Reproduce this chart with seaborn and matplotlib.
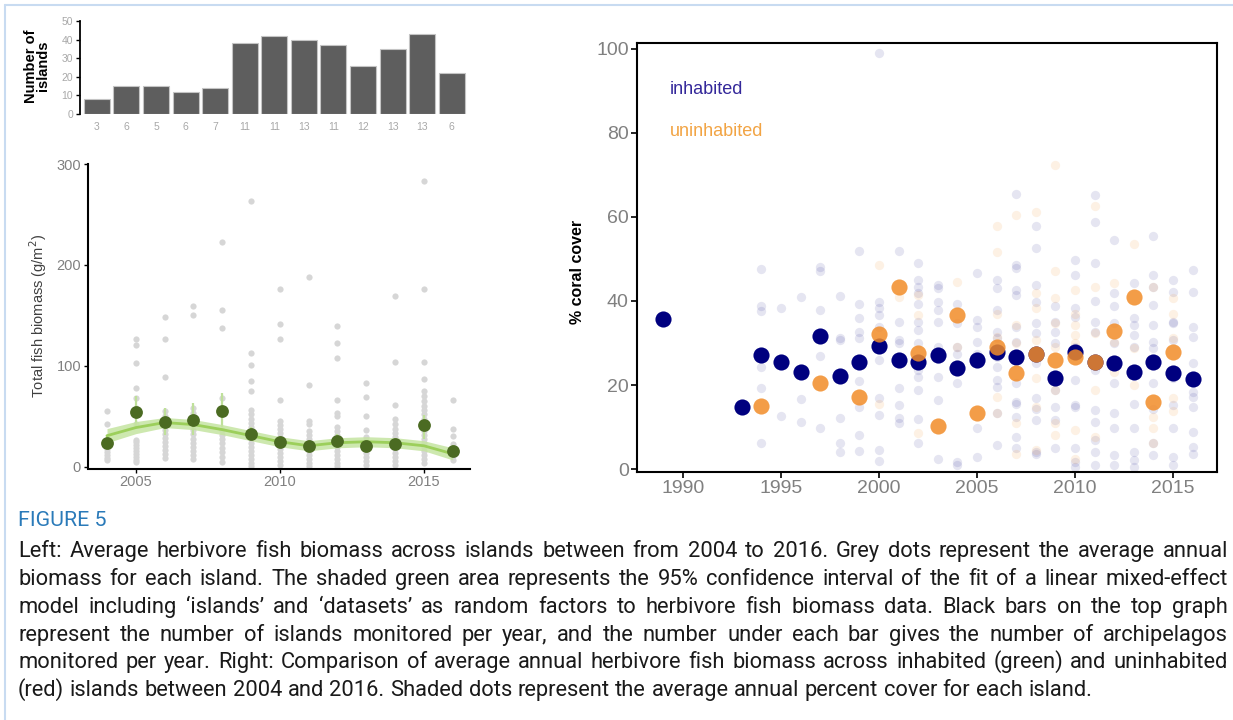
import numpy as np
import pandas as pd
import matplotlib
matplotlib.use("Agg")
import matplotlib.pyplot as plt
import seaborn as sns
from matplotlib.lines import Line2D

# ---------------------------------------------------------------
# Data
# ---------------------------------------------------------------
years = list(range(2004, 2017))
n_islands = [8, 15, 15, 12, 14, 38, 42, 40, 37, 26, 35, 43, 22]
n_archipelagos = [3, 6, 5, 6, 7, 11, 11, 13, 11, 12, 13, 13, 6]

biomass_mean = [24, 54, 45, 47, 55, 33, 25, 21, 26, 21, 23, 42, 16]
biomass_err_lo = [18, 40, 32, 32, 40, 27, 20, 16, 20, 16, 18, 28, 10]
biomass_err_hi = [32, 70, 58, 63, 73, 40, 31, 27, 33, 27, 29, 51, 22]
fit_mid = [31, 39, 44, 42, 37, 31, 25, 21, 24, 25, 24, 21, 13]
fit_halfwidth = [7, 6, 5, 5, 5, 5, 5, 5, 5, 5, 5, 5, 6]

island_biomass = {
    2004: [55, 43, 27, 24, 21, 18, 15, 12, 9, 7],
    2005: [127, 121, 103, 78, 68, 58, 43, 27, 25, 22, 19, 16, 13, 10, 7, 5],
    2006: [149, 127, 89, 55, 50, 37, 33, 29, 25, 21, 17, 13, 9],
    2007: [159, 150, 58, 53, 37, 33, 28, 24, 20, 16, 12, 8],
    2008: [223, 155, 138, 68, 37, 32, 28, 24, 19, 15, 10, 5],
    2009: [263, 113, 101, 85, 75, 56, 52, 48, 44, 40, 36, 32, 28, 24, 20, 16, 12, 8, 4, 1],
    2010: [176, 142, 127, 66, 46, 42, 38, 34, 30, 26, 22, 18, 14, 10, 6, 2],
    2011: [188, 81, 46, 43, 36, 32, 28, 24, 20, 16, 12, 8, 4, 1],
    2012: [140, 123, 108, 66, 53, 50, 40, 36, 32, 28, 24, 20, 16, 12, 8, 4, 1],
    2013: [83, 69, 50, 37, 30, 26, 22, 18, 14, 10, 6, 2],
    2014: [169, 104, 61, 48, 43, 38, 34, 30, 26, 22, 18, 14, 10, 6, 2],
    2015: [283, 176, 104, 87, 75, 70, 65, 60, 56, 52, 48, 44, 40, 36, 32, 28, 24, 20, 16, 12, 8, 4],
    2016: [66, 38, 31, 23, 19, 15, 11, 7],
}

inh_years = [1989, 1993, 1994, 1995, 1996, 1997, 1998, 1999, 2000, 2001, 2002, 2003,
             2004, 2005, 2006, 2007, 2008, 2009, 2010, 2011, 2012, 2013, 2014, 2015, 2016]
inh_mean = [35.7, 14.8, 27.1, 25.5, 23.0, 31.7, 22.1, 25.5, 29.4, 26.0, 25.5, 27.1,
            24.0, 26.0, 27.9, 26.7, 27.5, 21.7, 27.9, 25.5, 25.2, 23.0, 25.5, 22.8, 21.4]
uninh_years = [1994, 1997, 1999, 2000, 2001, 2002, 2003, 2004, 2005, 2006, 2007,
               2008, 2009, 2010, 2011, 2012, 2013, 2014, 2015]
uninh_mean = [15.1, 20.6, 17.2, 32.1, 43.3, 27.6, 10.2, 36.7, 13.3, 29.0, 22.9,
              27.5, 26.0, 26.7, 25.5, 32.9, 41.0, 16.0, 27.9]

faint_inhabited = {
    1994: [47.6, 38.8, 37.5, 24.4, 19.2, 6.3],
    1995: [38.3, 12.7],
    1996: [41, 16.6, 11.3],
    1997: [48, 47.2, 37.9, 26.9, 9.7],
    1998: [41.2, 31.3, 30.7, 12.2, 6.1, 4],
    1999: [52, 39.3, 35.9, 32.7, 31.1, 21, 14.8, 8.1, 4.4],
    2000: [99, 39.8, 38.3, 36.7, 33.9, 26, 16.8, 12.9, 4.5, 1.9],
    2001: [52, 35, 30.7, 29.9, 19.4, 15.2, 12.1, 11],
    2002: [49, 45, 43.4, 41.8, 39.4, 35, 33, 30, 23.6, 22, 18.8, 12, 6.1],
    2003: [43.8, 43, 39.8, 37.9, 35, 29, 26.3, 22, 16.4, 2.5],
    2004: [39.4, 34.7, 29, 27.5, 20.4, 1.7, 1],
    2005: [46.6, 35.5, 33.9, 30.3, 27.5, 9.7, 2.9],
    2006: [45, 43, 37.9, 32.7, 31.1, 26.7, 24.4, 21.2, 19.6, 13.3, 5.7],
    2007: [65.4, 48.6, 47.8, 42.6, 41.4, 33.9, 30.3, 20.4, 16, 15.6, 12.5, 7.7, 4.9],
    2008: [57.9, 52.7, 43.8, 39.8, 34.7, 32.5, 25.2, 16.8, 14.4, 11.7, 4.1, 3.7],
    2009: [38.7, 35, 32.7, 30, 18.8, 14.8, 11.7, 4.9],
    2010: [49.8, 46.2, 38.3, 36.3, 29.1, 21.2, 15.2, 14.8, 4.9, 1.7, 0.5],
    2011: [65.2, 58.7, 49.1, 40, 35, 32.7, 23.6, 14, 11.3, 6.9, 4.1, 1],
    2012: [54.5, 41.8, 38.7, 34.7, 30, 20.4, 13.3, 9.7, 3.3, 1],
    2013: [44.4, 35.9, 34.3, 31.9, 29.1, 15.6, 9.7, 4.1, 2.1, 0.5],
    2014: [55.5, 46.2, 43.4, 39, 34.3, 30.3, 28.7, 20.4, 14.4, 6.1, 3.3],
    2015: [45, 42.2, 35, 34.7, 30.7, 21.6, 15.2, 9.7, 2.9, 1],
    2016: [47.4, 42.2, 33.9, 31.5, 25.2, 18.4, 17.2, 14.8, 8.9, 5.3, 3.7],
}
faint_uninhabited = {
    2000: [48.5, 15.5],
    2001: [41],
    2002: [41.4, 36.7, 8.5],
    2004: [44.6, 29],
    2006: [57.9, 51.7, 37, 31.5, 17.2, 13.3],
    2007: [60.5, 34.3, 29.9, 10.9, 3.7],
    2008: [61.1, 41.8, 38.3, 30.7, 21.6, 14.8, 4.5],
    2009: [72.4, 47.1, 40.6, 34.7, 29.1, 18.8, 10.9, 8.1],
    2010: [42.6, 37, 34.3, 31.9, 30, 9.3, 2.5],
    2011: [62.5, 43.4, 32.3, 18.8, 7.7],
    2012: [44.4, 30.3, 23.2],
    2013: [53.5, 28.7, 20],
    2014: [43.4, 12.5, 9.7, 6.1],
    2015: [40.6, 37, 31.1, 16.8, 13.7],
}

caption_title = "FIGURE 5"
caption_lines = [
    "Left: Average herbivore fish biomass across islands between from 2004 to 2016. Grey dots represent the average annual",
    "biomass for each island. The shaded green area represents the 95% confidence interval of the fit of a linear mixed-effect",
    "model including \u2018islands\u2019 and \u2018datasets\u2019 as random factors to herbivore fish biomass data. Black bars on the top graph",
    "represent the number of islands monitored per year, and the number under each bar gives the number of archipelagos",
    "monitored per year. Right: Comparison of average annual herbivore fish biomass across inhabited (green) and uninhabited",
    "(red) islands between 2004 and 2016. Shaded dots represent the average annual percent cover for each island.",
]


def long_form(d):
    rows = [(y, v) for y, vals in d.items() for v in vals]
    return pd.DataFrame(rows, columns=["year", "value"])


# ---------------------------------------------------------------
# Figure setup
# ---------------------------------------------------------------
sns.set_theme(style="white")
plt.rcParams["font.family"] = ["Liberation Sans", "DejaVu Sans"]
W, H = 1233, 720
fig = plt.figure(figsize=(W / 100, H / 100), dpi=100)


def px_axes(left, top, right, bottom):
    return fig.add_axes([left / W, 1 - bottom / H, (right - left) / W, (bottom - top) / H])


def ftext(x, y, s, **kw):
    return fig.text(x / W, 1 - y / H, s, **kw)


# border of the figure box
fig.add_artist(Line2D([5 / W, 5 / W], [0, 1 - 5 / H], transform=fig.transFigure,
                      color="#c8dbf1", lw=1.5))
fig.add_artist(Line2D([5 / W, 1], [1 - 5 / H, 1 - 5 / H], transform=fig.transFigure,
                      color="#c8dbf1", lw=1.5))

# ---------------------------------------------------------------
# Top left: number of islands
# ---------------------------------------------------------------
ax_bar = px_axes(80, 21, 468, 114)
df_bar = pd.DataFrame({"year": [str(y) for y in years], "n": n_islands})
sns.barplot(data=df_bar, x="year", y="n", color="#5e5e5e", saturation=1, width=0.88,
            edgecolor="#c4c4c4", linewidth=0.8, ax=ax_bar)
ax_bar.set_xlim(-0.57, 12.55)
ax_bar.set_ylim(0, 50)
ax_bar.set_yticks(range(0, 51, 10))
ax_bar.set_xticks(range(len(years)), labels=[str(n) for n in n_archipelagos])
ax_bar.tick_params(axis="y", length=3, width=1, color="black", labelsize=7.5,
                   labelcolor="#a8a8a8", pad=2, left=True)
ax_bar.tick_params(axis="x", length=0, labelsize=7.5, labelcolor="#a8a8a8", pad=6)
for s in ["top", "right", "bottom"]:
    ax_bar.spines[s].set_visible(False)
ax_bar.spines["left"].set_color("black")
ax_bar.spines["left"].set_linewidth(1.3)
ax_bar.set_xlabel("")
ax_bar.set_ylabel("")
ftext(37, 66, "Number of\nislands", rotation=90, ha="center", va="center",
      fontsize=10.5, fontweight="bold", color="black", linespacing=0.85)

# ---------------------------------------------------------------
# Bottom left: fish biomass
# ---------------------------------------------------------------
ax_bio = px_axes(88, 164, 470, 468.5)
sns.scatterplot(data=long_form(island_biomass), x="year", y="value", color="#d6d6d6",
                s=20, linewidth=0, ax=ax_bio, clip_on=False, zorder=1)
ax_bio.vlines(years, biomass_err_lo, biomass_err_hi, color="#bfe09a", lw=1.6, zorder=2)
lo = np.array(fit_mid) - np.array(fit_halfwidth)
hi = np.array(fit_mid) + np.array(fit_halfwidth)
ax_bio.fill_between(years, lo, hi, color="#c5e4a1", alpha=0.85, lw=0, zorder=3)
sns.lineplot(x=years, y=fit_mid, color="#9ccf5b", lw=2, ax=ax_bio, zorder=4)
sns.scatterplot(x=years, y=biomass_mean, color="#4b6b22", s=85, linewidth=0,
                ax=ax_bio, zorder=5)
ax_bio.set_xlim(2003.34, 2016.6)
ax_bio.set_ylim(-1.5, 300)
ax_bio.set_xticks([2005, 2010, 2015])
ax_bio.set_yticks([0, 100, 200, 300])
ax_bio.tick_params(length=3, width=1, color="black", labelsize=10.5, labelcolor="#808080",
                   pad=2, left=True, bottom=True)
for s in ["top", "right"]:
    ax_bio.spines[s].set_visible(False)
for s in ["left", "bottom"]:
    ax_bio.spines[s].set_color("black")
    ax_bio.spines[s].set_linewidth(1.5)
ax_bio.set_xlabel("")
ax_bio.set_ylabel("")
ftext(38, 316, "Total fish biomass (g/m$^2$)", rotation=90, ha="center", va="center",
      fontsize=10.5, color="#404040")

# ---------------------------------------------------------------
# Right: coral cover
# ---------------------------------------------------------------
ax_cor = px_axes(637, 43, 1217, 472)
navy = "#00007f"
orange = "#f28c28"
sns.scatterplot(data=long_form(faint_inhabited), x="year", y="value", color=navy,
                alpha=0.1, s=45, linewidth=0, ax=ax_cor, zorder=1)
sns.scatterplot(data=long_form(faint_uninhabited), x="year", y="value", color=orange,
                alpha=0.12, s=45, linewidth=0, ax=ax_cor, zorder=2)
sns.scatterplot(x=inh_years, y=inh_mean, color=navy, s=135, linewidth=0, ax=ax_cor, zorder=3)
sns.scatterplot(x=uninh_years, y=uninh_mean, color=orange, alpha=0.85, s=135, linewidth=0,
                ax=ax_cor, zorder=4)
ax_cor.set_xlim(1987.65, 2017.24)
ax_cor.set_ylim(-0.7, 101.4)
ax_cor.set_xticks(range(1990, 2016, 5))
ax_cor.set_yticks(range(0, 101, 20))
ax_cor.tick_params(length=4, width=1.2, color="black", labelsize=14, labelcolor="#808080",
                   pad=2, left=True, bottom=True)
for s in ax_cor.spines.values():
    s.set_color("black")
    s.set_linewidth(1.5)
ax_cor.set_xlabel("")
ax_cor.set_ylabel("")
ftext(577, 272, "% coral cover", rotation=90, ha="center", va="center",
      fontsize=11.5, fontweight="bold", color="black")
ftext(670, 89, "inhabited", ha="left", va="center", fontsize=13, color="#34289a")
ftext(670, 131, "uninhabited", ha="left", va="center", fontsize=13, color="#f2a444")

# ---------------------------------------------------------------
# Caption (justified lines)
# ---------------------------------------------------------------
cap_family = ["Roboto", "DejaVu Sans"]
renderer = fig.canvas.get_renderer()

probe = ftext(0, 0, caption_lines[-1], fontsize=10, family=cap_family)
cap_size = 10 * 1074 / probe.get_window_extent(renderer).width
probe.remove()

ftext(18, 526, caption_title, fontsize=cap_size * 0.98, family=cap_family,
      color="#2a7ab9", va="baseline")

x0, x1 = 18, 1228
baselines = [557, 585, 613, 641, 668, 696]
for i, (line, yb) in enumerate(zip(caption_lines, baselines)):
    words = line.split(" ")
    objs = [ftext(0, yb, w, fontsize=cap_size, family=cap_family, color="#1a1a1a",
                  va="baseline") for w in words]
    widths = [o.get_window_extent(renderer).width for o in objs]
    if i < len(caption_lines) - 1:
        gap = (x1 - x0 - sum(widths)) / (len(words) - 1)
    else:
        gap = (1074 - sum(widths)) / (len(words) - 1)
    x = x0
    for o, w in zip(objs, widths):
        o.set_position((x / W, 1 - yb / H))
        x += w + gap

fig.savefig("out.png", dpi=100)
